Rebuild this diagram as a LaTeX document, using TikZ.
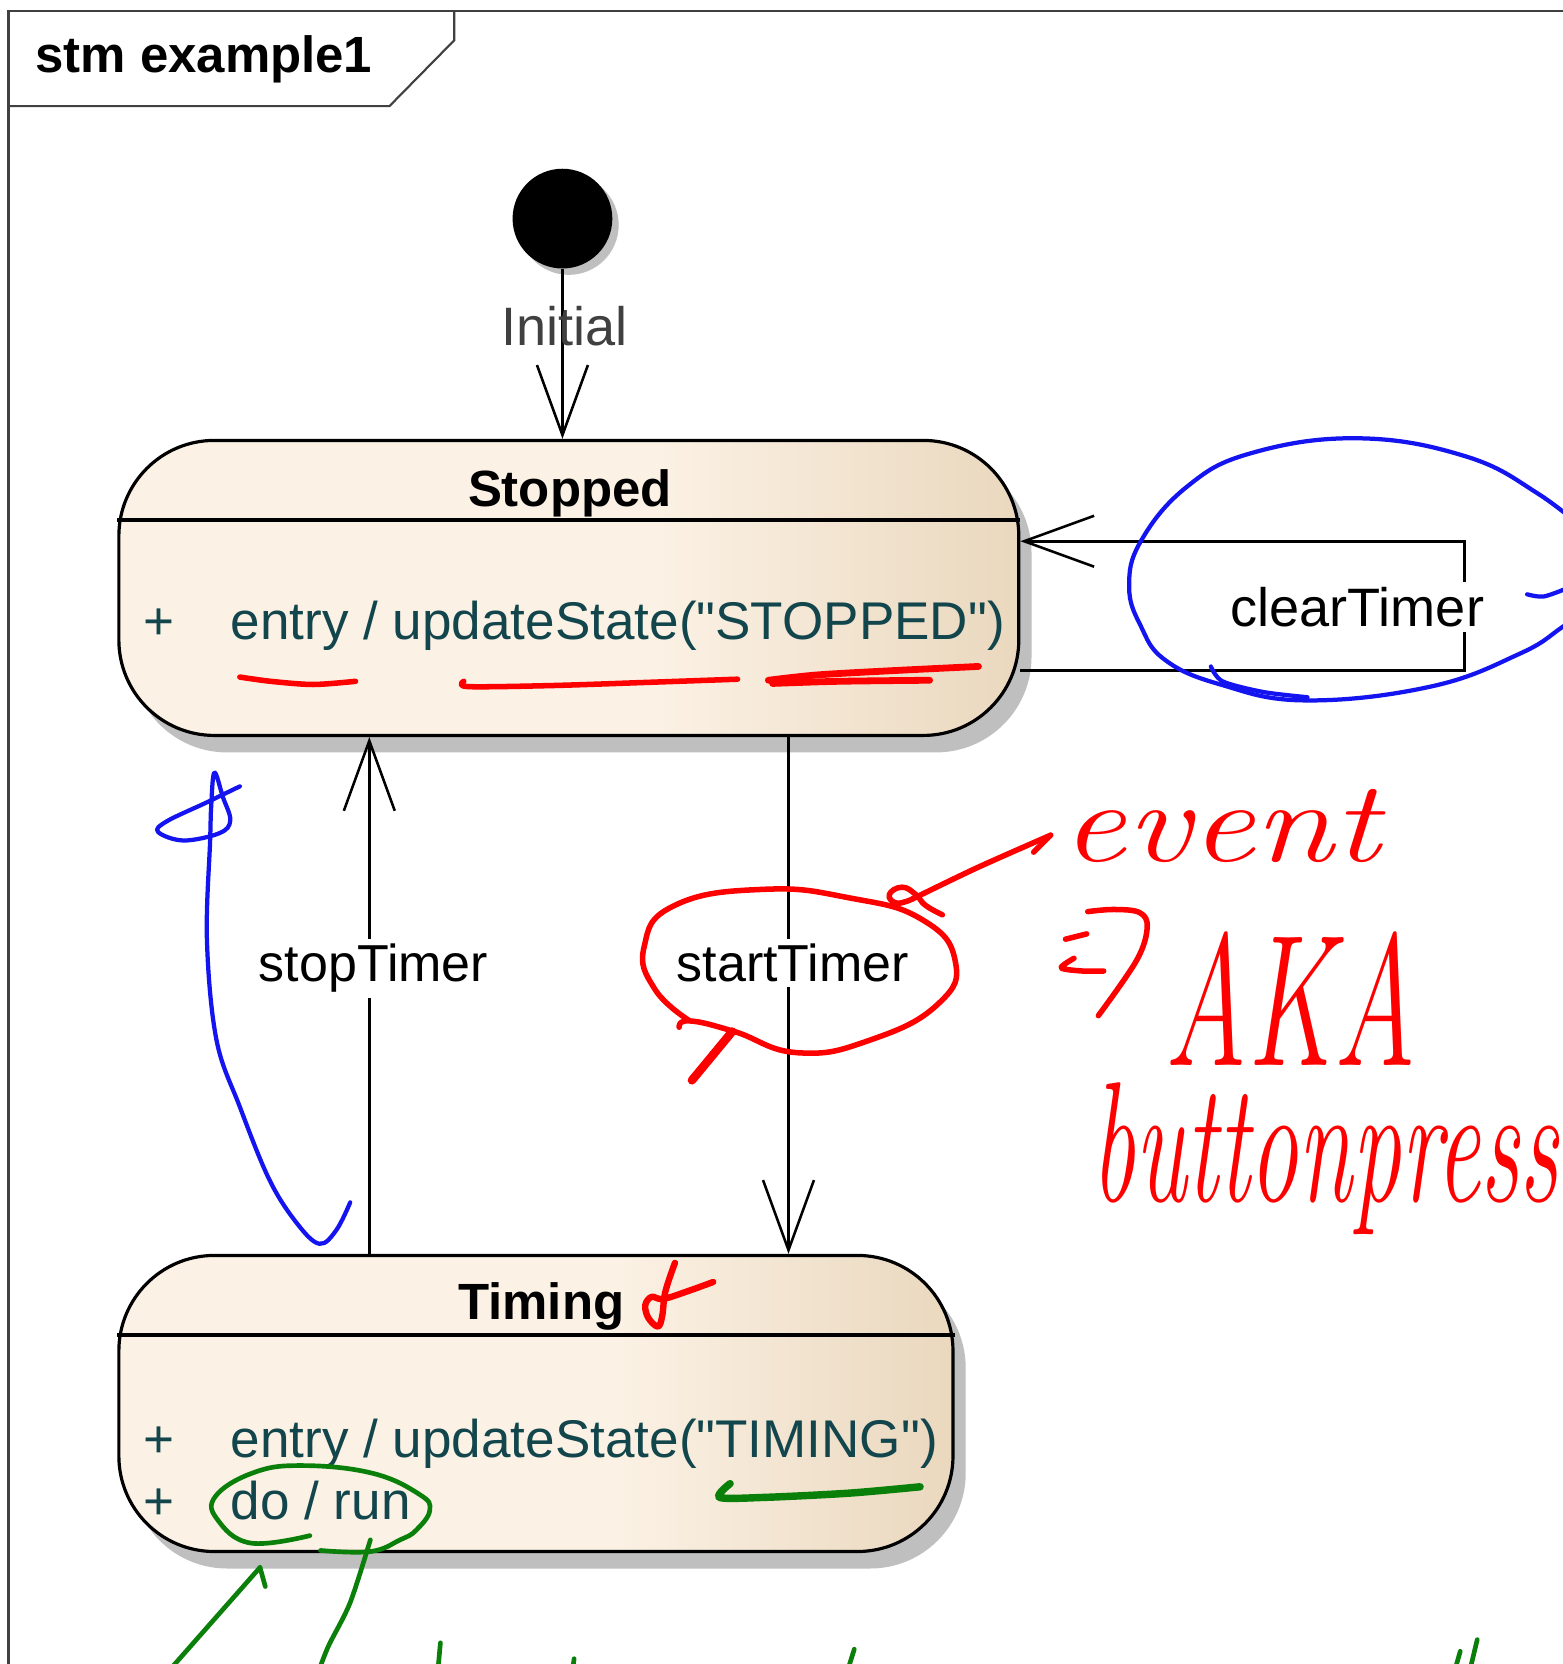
\documentclass[tikz,border=0pt]{standalone}
\usepackage{fontspec}
\usepackage{graphicx}
\usetikzlibrary{arrows.meta,shadows}
\newfontfamily\diagfont{Liberation Sans}
\newfontfamily\handfont{lmroman12-italic.otf}
\definecolor{statelight}{HTML}{FBF1E4}
\definecolor{statedark}{HTML}{EAD8BE}
\definecolor{bodyteal}{RGB}{18,70,76}
\definecolor{penred}{RGB}{255,0,0}
\definecolor{penblue}{RGB}{20,20,240}
\definecolor{pengreen}{RGB}{10,128,10}
\pgfdeclarehorizontalshading{statefill}{100bp}{color(0bp)=(statelight); color(25bp)=(statelight); color(55bp)=(statelight); color(75bp)=(statedark); color(100bp)=(statedark)}
\begin{document}
\begin{tikzpicture}[x=0.5pt, y=-0.5pt,
  framel/.style={draw=black!75, line width=1pt},
  title/.style={font=\diagfont\bfseries\fontsize{24}{28}\selectfont, inner sep=0pt},
  statebox/.style={draw=black, line width=1.5pt, rounded corners=45pt, shade, shading=statefill,
    drop shadow={shadow xshift=6pt, shadow yshift=-8pt, fill=black!25, opacity=1}, inner sep=0pt},
  stateline/.style={draw=black, line width=1.5pt},
  initdot/.style={circle, fill=black, minimum size=47pt, inner sep=0pt,
    drop shadow={shadow xshift=3pt, shadow yshift=-3pt, fill=black!25, opacity=1}},
  hdr/.style={font=\diagfont\bfseries\fontsize{24}{28}\selectfont, inner sep=0pt},
  bodytxt/.style={font=\diagfont\fontsize{25}{29}\selectfont, text=bodyteal, inner sep=0pt},
  lbl/.style={font=\diagfont\fontsize{24.5}{28}\selectfont, text=black, inner sep=2.5pt},
  trans/.style={draw=black, line width=1.2pt, -{Straight Barb[length=33pt, width=24pt]}},
  redpen/.style={draw=penred, line width=2.6pt, line cap=round, line join=round},
  bluepen/.style={draw=penblue, line width=2pt, line cap=round, line join=round},
  greenpen/.style={draw=pengreen, line width=2.2pt, line cap=round, line join=round},
  hand/.style={inner sep=0pt, text=penred}]

\useasboundingbox (0,0) rectangle (1472,1568);
\fill[white] (0,0) rectangle (1472,1568);

% diagram frame and its name tab
\draw[framel] (8,1600) -- (8,10) -- (1500,10);
\draw[framel] (8,100) -- (367,100) -- (428,38) -- (428,10);
\node[title, anchor=base west] (ttl) at (33,68) {stm example1};

% initial pseudostate
\node[initdot] (init) at (530,206) {};

% states
\node[statebox, minimum width=424pt, minimum height=139pt] (stopped) at (536,554) {};
\node[statebox, minimum width=393pt, minimum height=139.5pt] (timing) at (505,1322.5) {};

\coordinate (sdiv) at (0,490);
\coordinate (tdiv) at (0,1258);
\draw[stateline] (stopped.west |- sdiv) -- (stopped.east |- sdiv);
\draw[stateline] (timing.west |- tdiv) -- (timing.east |- tdiv);

\node[hdr, anchor=base] (stoppedname) at (537,477) {Stopped};
\node[bodytxt, anchor=base] (splus) at (150,603) {+};
\node[bodytxt, anchor=base west] (sentry) at (217,603) {entry / updateState("STOPPED")};

\node[hdr, anchor=base] (timingname) at (510,1243) {Timing};
\node[bodytxt, anchor=base] (tplus1) at (150,1373) {+};
\node[bodytxt, anchor=base west] (tentry) at (217,1373) {entry / updateState("TIMING")};
\node[bodytxt, anchor=base] (tplus2) at (150,1432) {+};
\node[bodytxt, anchor=base west] (tdo) at (217,1432) {do / run};

% transitions
\draw[trans] (init) -- (init |- stopped.north);
\node[lbl, font=\diagfont\fontsize{25.5}{29}\selectfont, text=black!75, anchor=base] (initlbl) at (532,326) {Initial};

\coordinate (stopx) at (348,0);
\draw[trans] (stopx |- timing.north) -- (stopx |- stopped.south);
\node[lbl, fill=white, anchor=base] (stoplbl) at (352,925) {stopTimer};

\coordinate (startx) at (743,0);
\draw[trans] (startx |- stopped.south) -- (startx |- timing.north);
\node[lbl, fill=white, anchor=base] (startlbl) at (747,925) {startTimer};

\coordinate (clr1) at (1380,632);
\coordinate (clr2) at (1380,510);
\draw[trans] (stopped.east |- clr1) -- (clr1) -- (clr2) -- (stopped.east |- clr2);
\node[lbl, font=\diagfont\fontsize{25.5}{29}\selectfont, fill=white, anchor=base] (clrlbl) at (1279,590) {clearTimer};

% red pen notes
\draw[redpen] plot[smooth] coordinates {(226,638) (255,642) (295,645) (335,642)};
\draw[redpen] plot[smooth] coordinates {(437,642) (441,647) (520,646) (610,643) (695,640)};
\draw[redpen, line width=3.2pt] plot[smooth] coordinates {(724,641) (770,636) (840,632) (922,628)};
\draw[redpen, line width=3.2pt] plot[smooth] coordinates {(728,644) (790,642) (876,641)};

\draw[redpen] plot[smooth, tension=0.8] coordinates {(650,962) (617,932) (607,892) (636,853) (720,838) (800,846) (868,866) (900,905) (884,946) (820,980) (752,992) (692,972) (650,962) (640,968)};
\draw[redpen, line width=4pt] (690,972) -- (652,1018);

\draw[redpen] plot[smooth] coordinates {(990,787) (920,818) (860,847)};
\draw[redpen] (990,787) -- (974,803);
\draw[redpen] plot[smooth, tension=0.8] coordinates {(860,847) (845,851) (838,843) (850,836) (863,843) (872,853) (888,862)};

\draw[redpen, line width=3pt] plot[smooth, tension=0.6] coordinates {(636,1190) (627,1217) (624,1240) (620,1250) (611,1242) (608,1230) (614,1222) (625,1224) (650,1216) (672,1208)};

% hand-drawn implication arrow
\draw[redpen] plot[smooth, tension=0.6] coordinates {(1025,859) (1050,857) (1074,860) (1081,874) (1071,905) (1035,957)};
\draw[redpen] (1004,885) -- (1024,880);
\draw[redpen] plot[smooth] coordinates {(1012,903) (1000,912) (1020,915) (1040,915)};

\node[hand, anchor=base west] (ev) at (1000,812) {\resizebox{150pt}{34pt}{\handfont event}};
\node[hand, anchor=base west] (aka) at (1097,1004) {\resizebox{119pt}{63pt}{\handfont AKA}};
\node[hand, anchor=base west] (bp) at (1028,1132) {\resizebox{220pt}{56pt}{\handfont buttonpress}};

% blue pen notes
\draw[bluepen] plot[smooth, tension=0.7] coordinates {(1500,505) (1449,465) (1381,430) (1280,413) (1179,427) (1118,459) (1075,510) (1064,553) (1075,590) (1098,622) (1150,645) (1230,660) (1348,647) (1432,616) (1472,591) (1500,570)};
\draw[bluepen] plot[smooth] coordinates {(1141,628) (1152,642) (1190,652) (1232,657)};
\draw[bluepen] plot[smooth] coordinates {(1439,560) (1455,562) (1480,553)};

\draw[bluepen] plot[smooth, tension=0.6] coordinates {(226,741) (195,756) (157,774) (149,784) (173,792) (207,785) (217,773) (210,751) (202,728) (199,760) (198,792) (195,886) (204,980) (226,1043) (254,1112) (280,1153) (301,1172) (317,1159) (330,1133)};

% green pen notes
\draw[greenpen] plot[smooth, tension=0.7] coordinates {(292,1447) (236,1454) (205,1432) (203,1410) (238,1388) (283,1381) (350,1388) (395,1408) (405,1423) (392,1442) (377,1451) (349,1462) (302,1461)};
\draw[greenpen, line width=3.5pt] plot[smooth] coordinates {(688,1398) (678,1411) (720,1411) (800,1407) (867,1401)};
\draw[greenpen] (245,1477) -- (163,1570);
\draw[greenpen] (245,1477) -- (250,1495);
\draw[greenpen] plot[smooth] coordinates {(349,1451) (330,1510) (310,1550) (302,1570)};
\draw[greenpen] (413,1570) -- (415,1548);
\draw[greenpen] (540,1570) -- (541,1563);
\draw[greenpen] (800,1570) -- (805,1554);
\draw[greenpen] (1372,1570) -- (1376,1556);
\draw[greenpen] (1386,1570) -- (1392,1545);
\end{tikzpicture}
\end{document}
